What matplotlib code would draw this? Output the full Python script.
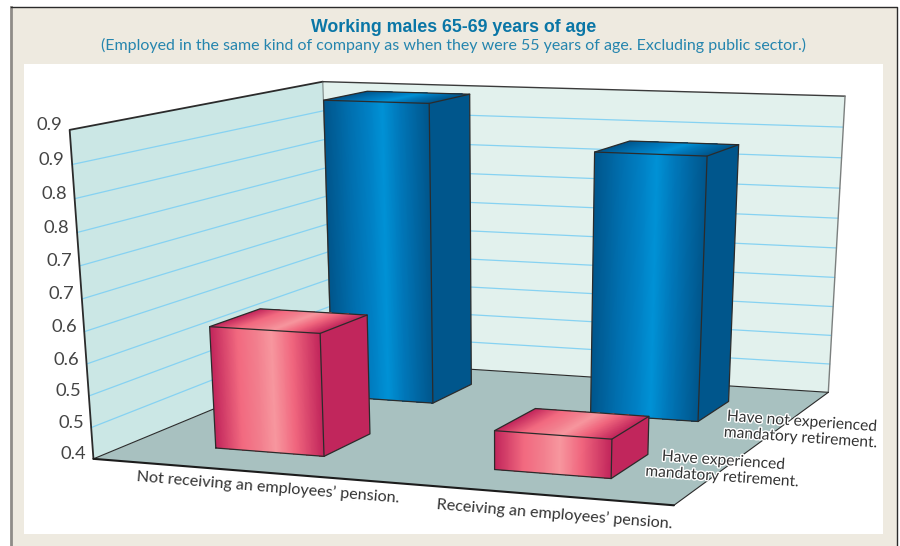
import numpy as np
import matplotlib
matplotlib.use("Agg")
import matplotlib.pyplot as plt
from matplotlib.colors import LinearSegmentedColormap
from matplotlib.patches import Polygon
import matplotlib.patheffects as pe

pension_labels = ["Not receiving an employees\u2019 pension.", "Receiving an employees\u2019 pension."]
retirement_labels = ["Have experienced\nmandatory retirement.", "Have not experienced\nmandatory retirement."]
experienced = [0.594, 0.461]
not_experienced = [0.898, 0.830]
z_ticks = [0.40, 0.45, 0.50, 0.55, 0.60, 0.65, 0.70, 0.75, 0.80, 0.85, 0.90]

Z0, Z1 = z_ticks[0], z_ticks[-1]
BAR_LEFT, BAR_RIGHT = 0.305, 0.702  # bar extent inside its category cell
BAR_FRONT, BAR_BACK = 0.30, 0.70

# where the corners of the chart box sit on the page
box_corners = [
    ((0, 0, Z0), (93.5, 459)), ((2, 0, Z0), (674, 505)),
    ((0, 2, Z0), (331, 360)), ((2, 2, Z0), (828.3, 392.7)),
    ((0, 0, Z1), (69.5, 130)), ((0, 2, Z1), (323, 81.7)), ((2, 2, Z1), (845, 96)),
]

rows = []
for (x, y, z), (u, v) in box_corners:
    rows.append([x, y, z, 1, 0, 0, 0, 0, -u * x, -u * y, -u * z, -u])
    rows.append([0, 0, 0, 0, x, y, z, 1, -v * x, -v * y, -v * z, -v])
CAMERA = np.linalg.svd(np.array(rows))[2][-1].reshape(3, 4)


def proj(x, y, z):
    p = CAMERA @ np.array([x, y, z, 1.0])
    return p[:2] / p[2]


def face(ax, pts, color, zorder=2):
    ax.add_patch(Polygon([proj(*p) for p in pts], closed=True, facecolor=color,
                         edgecolor="none", linewidth=0, zorder=zorder))


def outline(ax, pts, color="#2b2b2b", lw=0.9, zorder=3):
    xy = np.array([proj(*p) for p in pts])
    ax.plot(xy[:, 0], xy[:, 1], color=color, lw=lw, zorder=zorder, solid_capstyle="round")


def bar(ax, col, row, value, cmap, side, zorder):
    x0, x1 = col + BAR_LEFT, col + BAR_RIGHT
    y0, y1 = row + BAR_FRONT, row + BAR_BACK
    # shading is painted left to right, each strip reaching the right edge,
    # so neighbouring strips leave no seams
    edges = np.linspace(x0, x1, 121)[:-1]
    for i, a in enumerate(edges):
        c = cmap(i / (len(edges) - 1))
        face(ax, [(a, y0, Z0), (x1, y0, Z0), (x1, y0, value), (a, y0, value)], c, zorder)
        face(ax, [(a, y0, value), (x1, y0, value), (x1, y1, value), (a, y1, value)], c, zorder)
    face(ax, [(x1, y0, Z0), (x1, y1, Z0), (x1, y1, value), (x1, y0, value)], side, zorder)
    k = zorder + 0.1
    outline(ax, [(x0, y0, Z0), (x1, y0, Z0), (x1, y1, Z0), (x1, y1, value), (x0, y1, value),
                 (x0, y0, value), (x0, y0, Z0)], zorder=k)
    outline(ax, [(x0, y0, value), (x1, y0, value), (x1, y1, value)], zorder=k)
    outline(ax, [(x1, y0, value), (x1, y0, Z0)], zorder=k)


blues = LinearSegmentedColormap.from_list("blues3d", [
    (0, "#00568c"), (0.25, "#0070b0"), (0.42, "#0080c4"), (0.56, "#0092d6"),
    (0.72, "#0078ba"), (1, "#00568c")])
pinks = LinearSegmentedColormap.from_list("pinks3d", [
    (0, "#c2265c"), (0.25, "#f26a80"), (0.42, "#f27f8e"), (0.56, "#f7979f"),
    (0.75, "#f0667e"), (1, "#c2265c")])

BLUE_SIDE = "#00568c"
PINK_SIDE = "#c1265c"
TITLE_BLUE = "#0a76a6"
BEIGE = "#eeeae0"

fig = plt.figure(figsize=(9, 5.46), dpi=100)
ax = fig.add_axes([0, 0, 1, 1])
ax.set_xlim(0, 900)
ax.set_ylim(546, 0)
ax.axis("off")

# page frame and white plot panel
ax.add_patch(Polygon([(11, 6.5), (897, 6.5), (897, 546), (11, 546)], facecolor=BEIGE, edgecolor="none", zorder=0))
ax.plot([11, 11], [6.5, 546], color="#8f8c88", lw=2.0, zorder=1)
ax.plot([11, 897, 897], [6.5, 6.5, 546], color="#2b2b2b", lw=1.0, zorder=1)
ax.add_patch(Polygon([(24, 64), (883, 64), (883, 534), (24, 534)], facecolor="white", edgecolor="none", zorder=0.5))

ax.text(454, 27, "Working males 65-69 years of age", ha="center", va="center", color=TITLE_BLUE,
        fontsize=12.8, fontweight="bold", family="Liberation Sans")
ax.text(453.5, 45.5, "(Employed in the same kind of company as when they were 55 years of age. Excluding public sector.)",
        ha="center", va="center", color="#2585ae", fontsize=11.5, family="Lato")

# floor and walls
face(ax, [(0, 0, Z0), (2, 0, Z0), (2, 2, Z0), (0, 2, Z0)], "#a8c1c0", 1)
face(ax, [(0, 0, Z0), (0, 2, Z0), (0, 2, Z1), (0, 0, Z1)], "#cbe7e5", 1)
face(ax, [(0, 2, Z0), (2, 2, Z0), (2, 2, Z1), (0, 2, Z1)], "#e2f1ed", 1)

for t in z_ticks[1:-1]:
    outline(ax, [(0, 0, t), (0, 2, t)], color="#86d2f2", lw=0.9, zorder=1.2)
    outline(ax, [(0, 2, t), (2, 2, t)], color="#86d2f2", lw=0.9, zorder=1.2)

outline(ax, [(0, 0, Z0), (0, 0, Z1), (0, 2, Z1)], color="#2b2b2b", lw=1.3, zorder=1.5)
outline(ax, [(0, 2, Z1), (0, 2, Z0)], color="#6f7a78", lw=0.7, zorder=1.5)
outline(ax, [(0, 2, Z1), (2, 2, Z1)], color="#3a3a3a", lw=1.0, zorder=1.5)
outline(ax, [(2, 2, Z1), (2, 2, Z0)], color="#7b7f7e", lw=1.0, zorder=1.5)
outline(ax, [(0, 0, Z0), (0, 2, Z0), (2, 2, Z0)], color="#2b2b2b", lw=0.8, zorder=1.5)
outline(ax, [(2, 2, Z0), (2, 0, Z0)], color="#2b2b2b", lw=0.8, zorder=1.5)
outline(ax, [(0, 0, Z0), (2, 0, Z0)], color="#1c1c1c", lw=1.5, zorder=1.5)

for t in z_ticks:
    px, py = proj(0, 0, t)
    # axis labels round halves upward: 0.45 reads 0.5
    ax.text(px - 7.5, py - 4.5, f"{t + 1e-6:.1f}", ha="right", va="center", fontsize=13.2,
            color="#444444", family="Lato", zorder=5)

# back row first so the front row covers it
for col in range(2):
    bar(ax, col, 1, not_experienced[col], blues, BLUE_SIDE, 2 + col * 0.5)
for col in range(2):
    bar(ax, col, 0, experienced[col], pinks, PINK_SIDE, 3 + col * 0.5)

for label, pos in zip(pension_labels, [(267.5, 487), (554, 514)]):
    ax.text(*pos, label, rotation=-4.7, rotation_mode="anchor", ha="center", va="center",
            fontsize=11.6, color="#333333", family="Lato", zorder=5)

halo = [pe.withStroke(linewidth=2.0, foreground="white")]
for label, pos in zip(retirement_labels, [(722.5, 469), (801, 430)]):
    ax.text(*pos, label, rotation=-4, rotation_mode="anchor", ha="center", va="center",
            multialignment="center", fontsize=11.2, color="#333333", family="Lato",
            linespacing=1.2, path_effects=halo, zorder=5)

fig.savefig("out.png", dpi=100)
